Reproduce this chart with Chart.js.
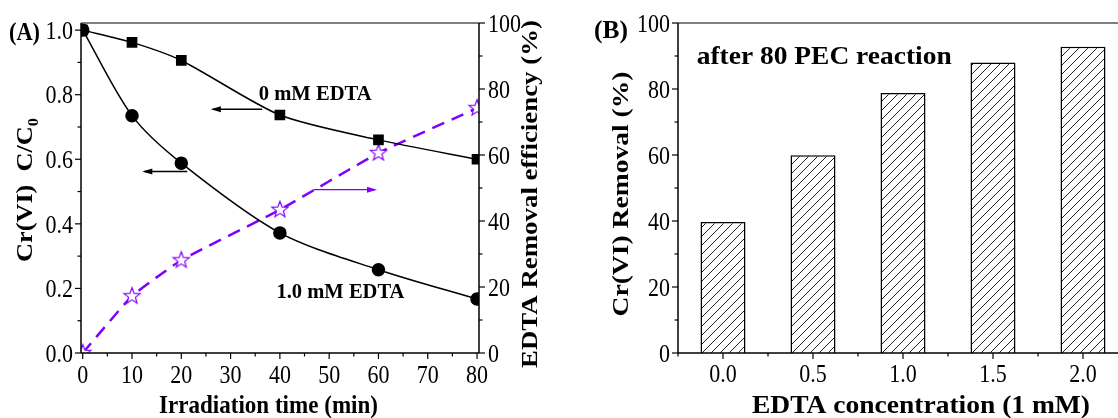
<!DOCTYPE html>
<html>
<head>
<meta charset="utf-8">
<script src="https://cdn.jsdelivr.net/npm/chart.js@4.4.1/dist/chart.umd.min.js"></script>
<style>
  html, body { margin: 0; padding: 0; background: #fff; overflow: hidden; }
  #chartA { position: absolute; left: 0; top: 0; }
  #chartB { position: absolute; left: 560px; top: 0; }
</style>
</head>
<body>
<canvas id="chartA" width="560" height="418"></canvas>
<canvas id="chartB" width="580" height="418"></canvas>
<script>
// ---- data (A): Cr(VI) ratio and EDTA removal vs irradiation time
const timeMin = [0, 10, 20, 40, 60, 80];
const ratioNoEdta = [1.0, 0.962, 0.906, 0.737, 0.660, 0.600];
const ratioEdta = [1.0, 0.735, 0.588, 0.372, 0.258, 0.167];
const edtaRemoval = [0, 17.2, 28.1, 43.4, 60.6, 74.2];
const timeTicks = [0, 10, 20, 30, 40, 50, 60, 70, 80];
const ratioTicks = [0, 0.2, 0.4, 0.6, 0.8, 1.0];
const effTicks = [0, 20, 40, 60, 80, 100];

// ---- data (B): Cr(VI) removal vs EDTA concentration
const concLabels = ['0.0', '0.5', '1.0', '1.5', '2.0'];
const crRemoval = [39.7, 59.9, 78.8, 88.0, 92.8];
const removalTicks = [0, 20, 40, 60, 80, 100];

const SERIF = "'Liberation Serif', 'Times New Roman', serif";
const PURPLE = '#7f00ff';
const TICK = { size: 22, sy: 1.15 };

Chart.defaults.font.family = SERIF;
Chart.defaults.color = '#000';

// midpoints between major ticks -> minor ticks
const minorOf = ticks => ticks.slice(1).map((v, i) => (v + ticks[i]) / 2);

// hollow five point star for the EDTA series
function makeStar() {
  const c = document.createElement('canvas');
  c.width = c.height = 20;
  const g = c.getContext('2d');
  g.beginPath();
  for (let i = 0; i < 10; i++) {
    const r = i % 2 === 0 ? 8.5 : 3.6;
    const a = -Math.PI / 2 + i * Math.PI / 5;
    g.lineTo(10 + r * Math.cos(a), 10 + r * Math.sin(a));
  }
  g.closePath();
  g.fillStyle = '#fff';
  g.fill();
  g.strokeStyle = PURPLE;
  g.lineWidth = 1.2;
  g.stroke();
  return c;
}

function makeHatch() {
  const c = document.createElement('canvas');
  c.width = c.height = 9;
  const g = c.getContext('2d');
  g.fillStyle = '#fff';
  g.fillRect(0, 0, 9, 9);
  g.strokeStyle = '#222';
  g.lineWidth = 1;
  g.beginPath();
  g.moveTo(0, 9); g.lineTo(9, 0);
  g.moveTo(-1, 1); g.lineTo(1, -1);
  g.moveTo(8, 10); g.lineTo(10, 8);
  g.stroke();
  return g.createPattern(c, 'repeat');
}

// text helper: parts = [{t, sub}], optional span fit and vertical stretch
function drawLabel(ctx, parts, x, y, o) {
  ctx.save();
  ctx.translate(x, y);
  if (o.rotate) ctx.rotate(-Math.PI / 2);
  const main = (o.bold ? 'bold ' : '') + o.size + 'px ' + SERIF;
  const sub = (o.bold ? 'bold ' : '') + Math.round(o.size * 0.62) + 'px ' + SERIF;
  let w = 0;
  parts.forEach(p => { ctx.font = p.sub ? sub : main; p.w = ctx.measureText(p.t).width; w += p.w; });
  ctx.scale(o.span ? o.span / w : 1, o.sy || 1);
  let cx = o.align === 'center' ? -w / 2 : o.align === 'right' ? -w : 0;
  ctx.fillStyle = o.color || '#000';
  ctx.textAlign = 'left';
  ctx.textBaseline = 'alphabetic';
  parts.forEach(p => {
    ctx.font = p.sub ? sub : main;
    ctx.fillText(p.t, cx, p.sub ? o.size * 0.25 : 0);
    cx += p.w;
  });
  ctx.restore();
}

// tick labels of a Chart.js scale, taken from its own tick list
function drawTickLabels(ctx, scale, fmt, place) {
  scale.ticks.forEach((t, i) => {
    const p = scale.getPixelForValue(t.value);
    const [x, y, align] = place(p);
    drawLabel(ctx, [{ t: fmt(t.value, i) }], x, y, Object.assign({ align }, TICK));
  });
}

function line(ctx, x1, y1, x2, y2, color, width) {
  ctx.beginPath();
  ctx.moveTo(x1, y1);
  ctx.lineTo(x2, y2);
  ctx.strokeStyle = color;
  ctx.lineWidth = width;
  ctx.stroke();
}

function arrow(ctx, x1, x2, y, color) {
  line(ctx, x1, y, x2, y, color, 1.4);
  const d = x2 > x1 ? 1 : -1;
  ctx.beginPath();
  ctx.moveTo(x2 + d * 2, y);
  ctx.lineTo(x2 - d * 8, y - 3);
  ctx.lineTo(x2 - d * 8, y + 3);
  ctx.closePath();
  ctx.fillStyle = color;
  ctx.fill();
}

const frameA = {
  id: 'frameA',
  afterDraw(chart) {
    const { ctx, chartArea: a, scales } = chart;
    const { x, y, y1 } = scales;
    ctx.save();
    line(ctx, a.left, a.top, a.right, a.top, '#555', 1.5);
    line(ctx, a.left, a.top, a.left, a.bottom, '#000', 1.5);
    line(ctx, a.right, a.top, a.right, a.bottom, '#000', 1.5);
    line(ctx, a.left, a.bottom, a.right, a.bottom, '#000', 1.5);
    timeTicks.forEach(v => { const p = x.getPixelForValue(v); line(ctx, p, a.bottom, p, a.bottom + 6, '#000', 1.2); });
    minorOf(timeTicks).forEach(v => { const p = x.getPixelForValue(v); line(ctx, p, a.bottom, p, a.bottom + 3.5, '#000', 1.2); });
    ratioTicks.forEach(v => { const p = y.getPixelForValue(v); line(ctx, a.left - 6, p, a.left, p, '#000', 1.2); });
    minorOf(ratioTicks).forEach(v => { const p = y.getPixelForValue(v); line(ctx, a.left - 3.5, p, a.left, p, '#000', 1.2); });
    effTicks.forEach(v => { const p = y1.getPixelForValue(v); line(ctx, a.right, p, a.right + 6, p, '#000', 1.2); });
    minorOf(effTicks).forEach(v => { const p = y1.getPixelForValue(v); line(ctx, a.right, p, a.right + 3.5, p, '#000', 1.2); });

    drawTickLabels(ctx, x, v => String(v), p => [p, 383, 'center']);
    drawTickLabels(ctx, y, v => v.toFixed(1), p => [a.left - 8, p + 8.8, 'right']);
    drawTickLabels(ctx, y1, v => String(v), p => [a.right + 9, p + 8.8, 'left']);

    // annotations placed in data units
    arrow(ctx, x.getPixelForValue(36.4), x.getPixelForValue(26.4), y.getPixelForValue(0.755), '#000');
    arrow(ctx, x.getPixelForValue(21.2), x.getPixelForValue(12.5), y.getPixelForValue(0.562), '#000');
    arrow(ctx, x.getPixelForValue(46.8), x.getPixelForValue(59.3), y1.getPixelForValue(49.5), PURPLE);
    drawLabel(ctx, [{ t: '0 mM EDTA' }], x.getPixelForValue(35.7), y.getPixelForValue(0.782), { size: 20, bold: true, span: 113, sy: 1.1 });
    drawLabel(ctx, [{ t: '1.0 mM EDTA' }], x.getPixelForValue(39.3), y.getPixelForValue(0.171), { size: 20, bold: true, span: 128, sy: 1.1 });

    // titles
    drawLabel(ctx, [{ t: '(A)' }], 9, 39.5, { size: 22, bold: true, span: 31, sy: 1.1 });
    drawLabel(ctx, [{ t: 'Irradiation time (min)' }], 268.5, 413, { size: 22, bold: true, span: 219, sy: 1.1, align: 'center' });
    drawLabel(ctx, [{ t: 'Cr(VI)  C/C' }, { t: '0', sub: true }], 32, 190, { size: 24, bold: true, span: 144, rotate: true, align: 'center' });
    drawLabel(ctx, [{ t: 'EDTA Removal efficiency (%)' }], 537, 194, { size: 24, bold: true, span: 348, rotate: true, align: 'center' });
    ctx.restore();
  }
};

const frameB = {
  id: 'frameB',
  afterDraw(chart) {
    const { ctx, chartArea: a, scales } = chart;
    const { x, y } = scales;
    ctx.save();
    line(ctx, a.left, a.top, a.right, a.top, '#555', 1.5);
    line(ctx, a.left, a.top, a.left, a.bottom, '#000', 1.5);
    line(ctx, a.left, a.bottom, a.right, a.bottom, '#000', 1.5);
    concLabels.forEach((c, i) => {
      const p = x.getPixelForValue(i);
      line(ctx, p, a.bottom, p, a.bottom + 6, '#000', 1.2);
      const m = x.getPixelForValue(i - 0.5);
      line(ctx, m, a.bottom, m, a.bottom + 3.5, '#000', 1.2);
    });
    removalTicks.forEach(v => { const p = y.getPixelForValue(v); line(ctx, a.left - 6, p, a.left, p, '#000', 1.2); });
    minorOf(removalTicks).forEach(v => { const p = y.getPixelForValue(v); line(ctx, a.left - 3.5, p, a.left, p, '#000', 1.2); });

    drawTickLabels(ctx, x, (v, i) => concLabels[i], p => [p, 381.5, 'center']);
    drawTickLabels(ctx, y, v => String(v), p => [a.left - 8, p + 8.8, 'right']);

    drawLabel(ctx, [{ t: '(B)' }], 34, 37.5, { size: 22, bold: true, span: 34, sy: 1.1 });
    drawLabel(ctx, [{ t: 'after 80 PEC reaction' }], 136.7, 64.3, { size: 24, bold: true, span: 255, sy: 1.05 });
    drawLabel(ctx, [{ t: 'EDTA concentration (1 mM)' }], 361, 413, { size: 22, bold: true, span: 338, sy: 1.1, align: 'center' });
    drawLabel(ctx, [{ t: 'Cr(VI) Removal (%)' }], 68, 194, { size: 24, bold: true, span: 245, rotate: true, align: 'center' });
    ctx.restore();
  }
};

const hiddenGrid = { display: false, drawTicks: false };
const noTickText = { display: false };

new Chart(document.getElementById('chartA'), {
  type: 'line',
  data: {
    datasets: [
      {
        label: '0 mM EDTA',
        data: timeMin.map((t, i) => ({ x: t, y: ratioNoEdta[i] })),
        yAxisID: 'y',
        borderColor: '#000', backgroundColor: '#000', borderWidth: 1.5,
        pointStyle: 'rect', pointRadius: 6.5,
        tension: 0.25
      },
      {
        label: '1.0 mM EDTA',
        data: timeMin.map((t, i) => ({ x: t, y: ratioEdta[i] })),
        yAxisID: 'y',
        borderColor: '#000', backgroundColor: '#000', borderWidth: 1.5,
        pointStyle: 'circle', pointRadius: 6,
        tension: 0.3
      },
      {
        label: 'EDTA removal',
        data: timeMin.map((t, i) => ({ x: t, y: edtaRemoval[i] })),
        yAxisID: 'y1',
        borderColor: PURPLE, borderWidth: 2.5, borderDash: [13, 8],
        pointStyle: makeStar(),
        tension: 0.15
      }
    ]
  },
  options: {
    responsive: false,
    animation: false,
    layout: { padding: { top: 23 } },
    plugins: { legend: { display: false }, tooltip: { enabled: false } },
    scales: {
      x: {
        type: 'linear', min: -0.35, max: 80.4,
        afterBuildTicks: s => { s.ticks = timeTicks.map(v => ({ value: v })); },
        afterFit: s => { s.height = 65; },
        grid: hiddenGrid, border: { display: false }, ticks: noTickText
      },
      y: {
        position: 'left', min: 0, max: 1.022,
        afterBuildTicks: s => { s.ticks = ratioTicks.map(v => ({ value: v })); },
        afterFit: s => { s.width = 81; },
        grid: hiddenGrid, border: { display: false }, ticks: noTickText
      },
      y1: {
        position: 'right', min: 0, max: 100,
        afterBuildTicks: s => { s.ticks = effTicks.map(v => ({ value: v })); },
        afterFit: s => { s.width = 81; },
        grid: hiddenGrid, border: { display: false }, ticks: noTickText
      }
    }
  },
  plugins: [frameA]
});

new Chart(document.getElementById('chartB'), {
  type: 'bar',
  data: {
    labels: concLabels,
    datasets: [{
      label: 'Cr(VI) removal',
      data: crRemoval,
      backgroundColor: makeHatch(),
      borderColor: '#000',
      borderWidth: 1.5,
      barPercentage: 0.5,
      categoryPercentage: 1.0
    }]
  },
  options: {
    responsive: false,
    animation: false,
    layout: { padding: { top: 23, right: 12 } },
    plugins: { legend: { display: false }, tooltip: { enabled: false } },
    scales: {
      x: {
        offset: true,
        afterFit: s => { s.height = 65; },
        grid: hiddenGrid, border: { display: false }, ticks: noTickText
      },
      y: {
        min: 0, max: 100,
        afterBuildTicks: s => { s.ticks = removalTicks.map(v => ({ value: v })); },
        afterFit: s => { s.width = 118; },
        grid: hiddenGrid, border: { display: false }, ticks: noTickText
      }
    }
  },
  plugins: [frameB]
});
</script>
</body>
</html>
